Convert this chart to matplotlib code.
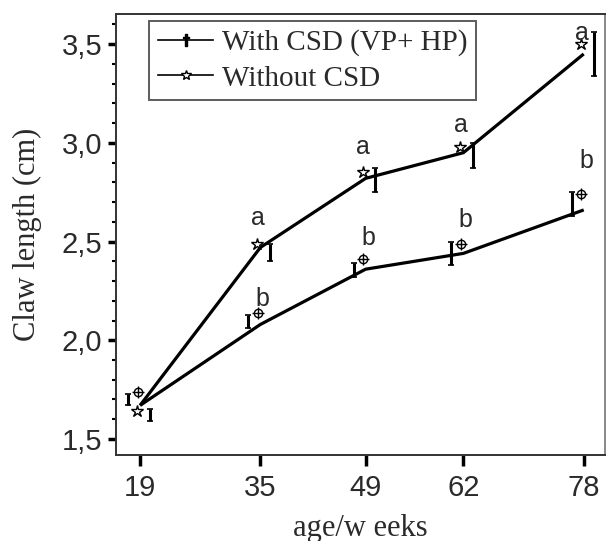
import numpy as np
import matplotlib
matplotlib.use("Agg")
import matplotlib.pyplot as plt
from matplotlib.ticker import MultipleLocator
from matplotlib.lines import Line2D

# data
weeks = [19, 35, 49, 62, 78]
tick_labels = ["19", "35", "49", "62", "78"]

# With CSD (VP+HP) - lower group
with_line = [1.67, 2.08, 2.36, 2.44, 2.66]
with_mark = [1.74, 2.14, 2.41, 2.49, 2.74]
with_err_mid = [1.70, 2.095, 2.355, 2.44, 2.69]
with_err_half = [0.03, 0.035, 0.035, 0.06, 0.06]
with_letters = ["", "b", "b", "b", "b"]
with_letter_y = [0, 2.21, 2.52, 2.61, 2.91]

# Without CSD - upper group
without_line = [1.67, 2.47, 2.82, 2.95, 3.45]
without_mark = [1.64, 2.49, 2.85, 2.98, 3.50]
without_err_mid = [1.62, 2.445, 2.81, 2.935, 3.45]
without_err_half = [0.03, 0.045, 0.06, 0.065, 0.11]
without_letters = ["", "a", "a", "a", "a"]
without_letter_y = [0, 2.62, 2.98, 3.09, 3.555]

sans = ["Liberation Sans", "DejaVu Sans"]
serif = ["Liberation Serif", "DejaVu Serif"]
txt_col = "#2a2a2a"

fig = plt.figure(figsize=(6.06, 5.41), dpi=100)
ax = fig.add_axes([0.1914, 0.159, 0.8066, 0.815])

x = np.array(weeks, dtype=float)

#%% lines
ax.plot(x, with_line, color="black", lw=2.3, solid_capstyle="butt")
ax.plot(x, without_line, color="black", lw=2.3, solid_capstyle="butt")

#%% markers
ax.plot(x - 0.3, with_mark, ls="none", marker="o", ms=6, mfc="white",
        mec="black", mew=1.0)
ax.plot(x - 0.3, with_mark, ls="none", marker="+", ms=9, mec="black", mew=1.0)
ax.plot(x - 0.4, without_mark, ls="none", marker="*", ms=9, mfc="white",
        mec="black", mew=1.0)

#%% error bars (offset either side of the week)
ax.errorbar(x - 1.6, with_err_mid, yerr=with_err_half, fmt="none",
            ecolor="black", elinewidth=2.2, capsize=2.5, capthick=1.2)
ax.errorbar(x + 1.3, without_err_mid, yerr=without_err_half, fmt="none",
            ecolor="black", elinewidth=2.2, capsize=2.5, capthick=1.2)

#%% significance letters
for xi, t, yi in zip(x, with_letters, with_letter_y):
    if t:
        ax.text(xi + 0.3, yi, t, ha="center", va="center", fontsize=18,
                family=sans, color=txt_col)
for xi, t, yi in zip(x, without_letters, without_letter_y):
    if t:
        ax.text(xi - 0.3, yi, t, ha="center", va="center", fontsize=18,
                family=sans, color=txt_col)

#%% axes
ax.set_xlim(15.8, 80.8)
ax.set_ylim(1.419, 3.652)
ax.set_xticks(weeks)
ax.set_xticklabels(tick_labels, fontsize=21, family=sans, color=txt_col)
ax.set_yticks([1.5, 2.0, 2.5, 3.0, 3.5])
ax.set_yticklabels(["1,5", "2,0", "2,5", "3,0", "3,5"], fontsize=21,
                   family=sans, color=txt_col)
ax.yaxis.set_minor_locator(MultipleLocator(0.1))
ax.tick_params(axis="y", which="major", direction="out", length=6, width=2.5,
               pad=4)
ax.tick_params(axis="y", which="minor", direction="out", length=3, width=1.5)
ax.tick_params(axis="x", which="major", direction="out", length=8, width=2.5,
               pad=6)
for s in ax.spines.values():
    s.set_linewidth(1.4)
    s.set_color("#333333")
ax.spines["right"].set_color("#888888")

ax.set_ylabel("Claw length (cm)", fontsize=22, family=serif, labelpad=14,
              color=txt_col)
ax.set_xlabel("age/w eeks", fontsize=22, family=serif, labelpad=8,
              color=txt_col)

#%% legend
h1 = Line2D([], [], color="black", lw=1.2, marker="$\u2020$", ms=9)
h2 = Line2D([], [], color="black", lw=1.2, marker="*", ms=7, mfc="white",
            mec="black")
leg = ax.legend([h1, h2], ["With CSD (VP+ HP)", "Without CSD"],
                loc="upper left", bbox_to_anchor=(0.068, 0.985),
                prop={"family": serif, "size": 21}, frameon=True,
                fancybox=False, edgecolor="#333333", handlelength=1.9,
                handletextpad=0.3, borderpad=0.3, labelspacing=0.3,
                borderaxespad=0)
leg.get_frame().set_linewidth(1.4)
for t in leg.get_texts():
    t.set_color(txt_col)

fig.savefig("out.png", dpi=100)
